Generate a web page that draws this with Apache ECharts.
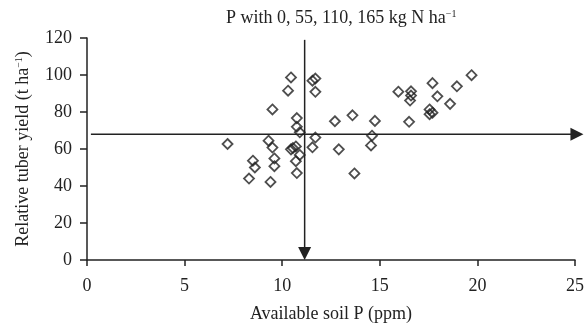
<!DOCTYPE html>
<html>
<head>
<meta charset="utf-8">
<script src="https://cdn.jsdelivr.net/npm/echarts@6/dist/echarts.min.js"></script>
<style>
  html, body { margin: 0; padding: 0; background: #fff; }
  #chart { width: 587px; height: 328px; }
</style>
</head>
<body>
<div id="chart"></div>
<script>
// soil P (ppm) and relative tuber yield (t/ha)
const soilP = [
  7.2, 8.3, 8.5, 8.6, 9.3, 9.4, 9.5, 9.5, 9.6, 9.6,
  10.3, 10.45, 10.45, 10.55, 10.7, 10.7, 10.75, 10.75, 10.75, 10.9,
  10.9, 11.55, 11.7, 11.7, 11.7, 11.55, 12.7, 12.9, 13.6, 13.7,
  14.55, 14.6, 14.75, 15.95, 16.6, 16.6, 16.55, 16.5, 17.55, 17.7,
  17.55, 17.7, 17.95, 18.6, 18.95, 19.7
];
const tuberYield = [
  62.7, 44.0, 53.7, 50.0, 64.5, 42.2, 60.8, 81.4, 54.9, 50.7,
  91.5, 98.7, 59.8, 60.5, 61.4, 53.4, 76.7, 72.0, 47.0, 69.0,
  56.8, 96.9, 98.1, 90.9, 66.2, 60.9, 75.0, 59.8, 78.2, 46.8,
  61.9, 67.2, 75.2, 91.0, 91.2, 88.9, 86.2, 74.7, 81.4, 79.6,
  78.8, 95.6, 88.5, 84.4, 93.9, 99.9
];

// critical level arrows (x = soil P, y = yield)
const hArrowX = [0.2, 25.1];
const hArrowY = [68, 68];
const vArrowX = [11.15, 11.15];
const vArrowY = [119, 3.5];

const xTicks = [0, 5, 10, 15, 20, 25];
const yTicks = [0, 20, 40, 60, 80, 100, 120];

const ink = "#222";
const font = "'Liberation Serif', 'Times New Roman', serif";
const supStyle = { fontFamily: font, fontSize: 10, verticalAlign: "top", color: ink };

const chart = echarts.init(document.getElementById("chart"));

const arrowSeries = (xs, ys, rotate) => ({
  type: "line",
  clip: false,
  silent: true,
  symbol: "triangle",
  symbolSize: 13,
  symbolRotate: rotate,
  lineStyle: { color: ink, width: 1.5 },
  itemStyle: { color: ink },
  data: xs.map((x, i) =>
    i === 0 ? { value: [x, ys[i]], symbol: "none" } : [x, ys[i]]
  ),
  z: 3,
});

chart.setOption({
  animation: false,
  backgroundColor: "#fff",
  textStyle: { fontFamily: font, color: ink },
  title: {
    text: "P with 0, 55, 110, 165 kg N ha{sup|−1}",
    left: 221,
    top: 4,
    textStyle: {
      fontFamily: font,
      fontSize: 18,
      fontWeight: "normal",
      color: ink,
      rich: { sup: supStyle },
    },
  },
  grid: { left: 87, right: 11, top: 38, bottom: 64 },
  xAxis: {
    type: "value",
    min: xTicks[0],
    max: xTicks[xTicks.length - 1],
    interval: 5,
    name: "Available soil P (ppm)",
    nameLocation: "middle",
    nameGap: 45,
    nameTextStyle: { fontFamily: font, fontSize: 18, color: ink },
    axisLine: { show: true, onZero: false, lineStyle: { color: ink, width: 1.5 } },
    axisTick: { show: true, length: 6, lineStyle: { color: ink, width: 1.5 } },
    axisLabel: { margin: 17, fontFamily: font, fontSize: 18, color: ink },
    splitLine: { show: false },
  },
  yAxis: {
    type: "value",
    min: yTicks[0],
    max: yTicks[yTicks.length - 1],
    interval: 20,
    name: "Relative tuber yield (t ha{sup|−1})",
    nameLocation: "middle",
    nameGap: 55,
    nameTextStyle: {
      fontFamily: font,
      fontSize: 18,
      color: ink,
      rich: { sup: supStyle },
    },
    axisLine: { show: true, onZero: false, lineStyle: { color: ink, width: 1.5 } },
    axisTick: { show: true, length: 7, lineStyle: { color: ink, width: 1.5 } },
    axisLabel: { margin: 15, fontFamily: font, fontSize: 18, color: ink },
    splitLine: { show: false },
  },
  series: [
    {
      type: "scatter",
      symbol: "diamond",
      symbolSize: 10,
      itemStyle: { color: "rgba(0,0,0,0)", borderColor: ink, borderWidth: 1.8 },
      data: soilP.map((p, i) => [p, tuberYield[i]]),
      z: 4,
    },
    arrowSeries(hArrowX, hArrowY, -90),
    arrowSeries(vArrowX, vArrowY, 180),
  ],
});

window.addEventListener("resize", () => chart.resize());
</script>
</body>
</html>
